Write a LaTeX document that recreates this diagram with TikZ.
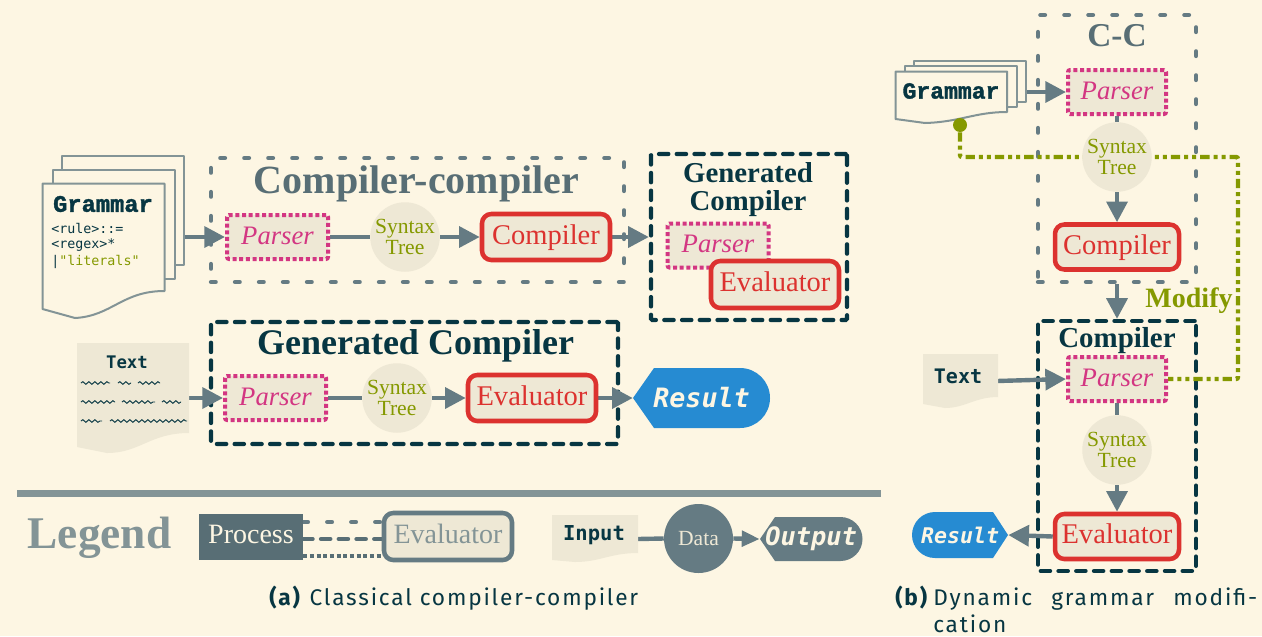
\documentclass[tikz,border=0pt]{standalone}
\usepackage{fontspec}
\setmainfont{Liberation Serif}
\newfontfamily\monof{DejaVu Sans Mono}
\newfontfamily\gramf{Liberation Mono}[BoldFeatures={FakeBold=1.5}]
\newfontfamily\capf[LetterSpace=8]{Fira Sans}
\usetikzlibrary{arrows.meta,decorations.pathmorphing}
\definecolor{bgc}{HTML}{FDF6E3}
\definecolor{paper}{HTML}{EEE8D5}
\definecolor{dk}{HTML}{073642}
\definecolor{g1}{HTML}{586E75}
\definecolor{g2}{HTML}{657B83}
\definecolor{g3}{HTML}{839496}
\definecolor{mag}{HTML}{D33682}
\definecolor{rd}{HTML}{DC322F}
\definecolor{ol}{HTML}{859900}
\definecolor{bl}{HTML}{268BD2}
\pgfdeclarelayer{boxes}
\pgfdeclarelayer{conn}
\pgfsetlayers{boxes,conn,main}
\tikzset{
  wh/.style 2 args={minimum width=#1*0.75pt,minimum height=#2*0.75pt,inner sep=0pt},
  midtext/.style={text height=13pt,text depth=2.5pt},
  parserbox/.style={draw=mag,fill=paper,line width=3pt,dash pattern=on 3pt off 2pt,rounded corners=1.5pt,
    text=mag,font=\fontsize{20}{22}\selectfont\itshape,wh={#1}{44},midtext},
  parserbox/.default=101,
  redbox/.style={draw=rd,fill=paper,line width=3.4pt,rounded corners=7pt,text=rd,midtext,
    font=\fontsize{21.4}{23}\selectfont},
  tree/.style={circle,fill=paper,text=ol,minimum size=#1*0.75pt,inner sep=0pt,align=center,
    font=\fontsize{16.2}{15.5}\selectfont},
  ccb/.style={draw=g2,line width=3.2pt,line cap=round,dash pattern=on 3.5pt off 14.5pt,wh={#1}},
  gcb/.style={draw=dk,line width=3.2pt,line cap=round,dash pattern=on 7pt off 6.3pt,rounded corners=1pt,wh={#1}},
  flow/.style={draw=g2,line width=3.3pt,-{Triangle[length=15.5pt,width=15.5pt]}},
  plainflow/.style={draw=g2,line width=3.3pt},
  sheet/.style={draw=g3,line width=1.5pt,fill=bgc,line join=round},
  mtitle/.style={font=\monof\bfseries,text=dk,inner sep=0pt},
  stitle/.style={font=\bfseries,inner sep=0pt},
  scrib/.style={draw=dk,line width=.7pt,decorate,decoration={snake,segment length=4.5pt,amplitude=1pt}},
}
\begin{document}
\begin{tikzpicture}[x=0.75pt,y=-0.75pt]
\useasboundingbox (0,0) rectangle (1262,636);
\begin{pgfonlayer}{boxes}
\fill[bgc] (0,0) rectangle (1262,636);
% group boxes
\node[ccb={413}{124}] (ccA) at (417.5,220) {};
\node[gcb={196}{166}] (genA) at (749,237) {};
\node[gcb={407}{122}] (genB) at (414.5,383) {};
\node[ccb={158}{267}] (ccB) at (1117,148.5) {};
\node[gcb={158}{250}] (genC) at (1117,446) {};
\end{pgfonlayer}

% ---------- (a) top row
\node[sheet,wh={122}{109}] (gramA3) at (123,210) {};
\node[sheet,wh={122}{109}] (gramA2) at (113.5,224) {};
\draw[sheet] (42.5,183.5) -- (164.5,183.5) -- (164.5,291) .. controls (122,291) and (112,316) .. (75,318) -- (42.5,309) -- cycle;
\node[mtitle,font=\gramf\bfseries\fontsize{17.8}{18}\selectfont] (gramAt) at (103,204) {Grammar};
\node[anchor=west,inner sep=0pt,text=dk,font=\monof\fontsize{10}{12}\selectfont] (ruleA) at (51,228) {<rule>::=};
\node[anchor=west,inner sep=0pt,text=dk,font=\monof\fontsize{10}{12}\selectfont] (ruleB) at (51,245) {<regex>*};
\node[anchor=west,inner sep=0pt,text=dk,font=\monof\fontsize{10}{12}\selectfont] (ruleC) at (51,262) {|\textcolor{ol}{"literals"}};

\node[stitle,text=g1,font=\bfseries\fontsize{30}{32}\selectfont] (ccAt) at (416.5,184) {Compiler-compiler};
\node[parserbox] (pA) at (277.5,237) {Parser};
\node[tree=68] (stA) at (405,237) {Syntax\\Tree};
\node[redbox,wh={128}{46}] (cA) at (546,237) {Compiler};
\node[stitle,text=dk,align=center,font=\bfseries\fontsize{21.6}{20.5}\selectfont] (genAt) at (748,189.5) {Generated\\Compiler};
\node[parserbox] (pB) at (718,245.5) {Parser};
\node[redbox,wh={128}{47}] (eB) at (775,284.5) {Evaluator};

% ---------- (a) second row
\fill[paper] (77,343) -- (189,343) -- (189,433) .. controls (150,433) and (140,453) .. (107,453) -- (77,447) -- cycle;
\node[mtitle,font=\monof\bfseries\fontsize{13}{15}\selectfont] (txtA) at (127,362) {Text};
\foreach \a/\b/\c in {81/110/383,118/131/383,138/160/383,81/115/402,122/155/402,162/181/402,81/102/421,110/187/421}
  \draw[scrib] (\a,\c) -- (\b,\c);
\coordinate (txtAe) at (187,398);
\node[stitle,text=dk,font=\bfseries\fontsize{27}{29}\selectfont] (genBt) at (415.5,346) {Generated Compiler};
\node[parserbox] (pC) at (275.5,398) {Parser};
\node[tree=68] (stC) at (397,398) {Syntax\\Tree};
\node[redbox,wh={128}{46}] (eC) at (532,398) {Evaluator};
\fill[bl] (633,398) -- (654,368) -- (740,368) arc[start angle=-90,end angle=90,radius=30] -- (654,428) -- cycle;
\node[wh={137}{60},font=\monof\bfseries\itshape\fontsize{20}{22}\selectfont,text=bgc] (resA) at (701.5,398) {Result};

% ---------- legend
\node[fill=g3,wh={864}{6.5}] (rule) at (449,493.5) {};
\node[stitle,text=g3,font=\bfseries\fontsize{34}{36}\selectfont] (leg) at (99.5,537.5) {Legend};
\node[fill=g1,text=bgc,wh={104}{46},midtext,font=\fontsize{21}{23}\selectfont] (proc) at (251,536.5) {Process};
\node[draw=g2,fill=paper,line width=3.4pt,rounded corners=7pt,text=g3,wh={128}{47},midtext,font=\fontsize{21}{23}\selectfont] (evalL) at (448,536.5) {Evaluator};
\coordinate (lA) at (383,522);
\coordinate (lB) at (383,539);
\coordinate (lC) at (383,556);
\fill[paper] (552,515) -- (638,515) -- (638,553) .. controls (610,553) and (600,562) .. (575,562) -- (552,560) -- cycle;
\node[mtitle,font=\monof\bfseries\fontsize{15.4}{17}\selectfont] (inp) at (594,535) {Input};
\coordinate (inpE) at (638,539);
\node[circle,fill=g2,text=paper,minimum size=69*0.75pt,inner sep=0pt,font=\fontsize{16.2}{18}\selectfont] (dat) at (698.5,538.5) {Data};
\fill[g2] (760,539) -- (775,517) -- (840.5,517) arc[start angle=-90,end angle=90,radius=22] -- (775,561) -- cycle;
\node[wh={102}{44},font=\monof\bfseries\itshape\fontsize{19}{21}\selectfont,text=bgc] (outp) at (811,539) {Output};

% ---------- captions
\node[anchor=base west,inner sep=0pt,text=dk,font=\capf\fontsize{17}{20}\selectfont] (capA) at (269,605) {\textbf{(a)} Classical compiler-compiler};
\node[anchor=base west,inner sep=0pt,text=dk,font=\capf\fontsize{17}{20}\selectfont] (capB) at (895,605) {\textbf{(b)}};
\node[anchor=base west,inner sep=0pt,text=dk,font=\capf\fontsize{17}{20}\selectfont] (capC) at (933,605) {\makebox[243pt][s]{Dynamic\hfill grammar\hfill modifi-}};
\node[anchor=base west,inner sep=0pt,text=dk,font=\capf\fontsize{17}{20}\selectfont] (capD) at (933,632) {cation};

% ---------- (b)
\node[sheet,wh={112}{41}] (gramB3) at (969.5,81.5) {};
\node[sheet,wh={112}{41}] (gramB2) at (960.5,86.5) {};
\draw[sheet] (895.5,71.5) -- (1007,71.5) -- (1007,112) .. controls (975,112) and (960,122) .. (925,123) -- (895.5,119) -- cycle;
\node[mtitle,font=\gramf\bfseries\fontsize{17.3}{18}\selectfont] (gramBt) at (951,91) {Grammar};
\node[circle,fill=ol,minimum size=14*0.75pt,inner sep=0pt] (gdot) at (960,125) {};

\node[stitle,text=g1,font=\bfseries\fontsize{25}{27}\selectfont] (ccBt) at (1117,36) {C-C};
\node[parserbox={98}] (pD) at (1117,92) {Parser};
\node[tree=66] (stD) at (1117,157) {Syntax\\Tree};
\node[redbox,wh={124}{45}] (cD) at (1117,247) {Compiler};
\node[stitle,text=ol,font=\bfseries\fontsize{21}{23}\selectfont] (modi) at (1189,301) {Modify};

\node[stitle,text=dk,font=\bfseries\fontsize{21.7}{24}\selectfont] (genCt) at (1117,341) {Compiler};
\fill[paper] (923,354) -- (998,354) -- (998,397) .. controls (975,397) and (965,408) .. (945,408) -- (923,404) -- cycle;
\node[mtitle,font=\monof\bfseries\fontsize{15}{17}\selectfont] (txtC) at (958,376) {Text};
\coordinate (txtCe) at (997,381);
\node[parserbox={98}] (pE) at (1117,379) {Parser};
\node[tree=66] (stE) at (1117,450) {Syntax\\Tree};
\node[redbox,wh={124}{45}] (eE) at (1117,536.5) {Evaluator};
\fill[bl] (1008,535) -- (993,512) -- (935,512) arc[start angle=-90,end angle=-270,radius=23] -- (993,558) -- cycle;
\node[wh={96}{46},font=\monof\bfseries\itshape\fontsize{16.2}{18}\selectfont,text=bgc] (resE) at (960,535) {Result};

% ---------- connectors
\begin{pgfonlayer}{conn}
\draw[flow] (gramA3.east |- pA.west) -- (pA.west);
\draw[plainflow] (pA.east) -- (stA.west);
\draw[flow] (stA.east) -- (cA.west);
\draw[flow] (cA.east) -- (genA.west);
\draw[flow] (txtAe) -- (pC.west);
\draw[plainflow] (pC.east) -- (stC.west);
\draw[flow] (stC.east) -- (eC.west);
\draw[flow] (eC.east) -- (resA.west);
\draw[draw=g2,line width=3.2pt,line cap=round,dash pattern=on 3.5pt off 14.5pt] (proc.east |- lA) -- (lA);
\draw[draw=g1,line width=3.2pt,line cap=round,dash pattern=on 7pt off 6.3pt] (proc.east |- lB) -- (lB);
\draw[draw=g1,line width=3pt,dash pattern=on 3pt off 2pt] (proc.east |- lC) -- (lC);
\draw[plainflow] (inpE) -- (dat.west);
\draw[draw=g2,line width=3.3pt,-{Triangle[length=13.5pt,width=11.5pt]}] (dat.east) -- (outp.west);
\draw[flow] (gramB3.east |- pD.west) -- (pD.west);
\draw[plainflow] (pD.south) -- (stD.north);
\draw[flow] (stD.south) -- (cD.north);
\draw[flow] (ccB.south) -- (genC.north);
\draw[flow] (txtCe) -- (pE.west);
\draw[plainflow] (pE.south) -- (stE.north);
\draw[flow] (stE.south) -- (eE.north);
\draw[flow] (eE.west) -- (resE.east);
\coordinate (gc) at (1238,157);
\draw[draw=ol,line width=3.3pt,rounded corners=1.5pt,dash pattern=on 7pt off 3pt on 3pt off 3pt on 3pt off 3pt]
  (gdot.south) |- (gc) -- (gc |- pE.east) -- (pE.east);
\end{pgfonlayer}
\end{tikzpicture}
\end{document}
